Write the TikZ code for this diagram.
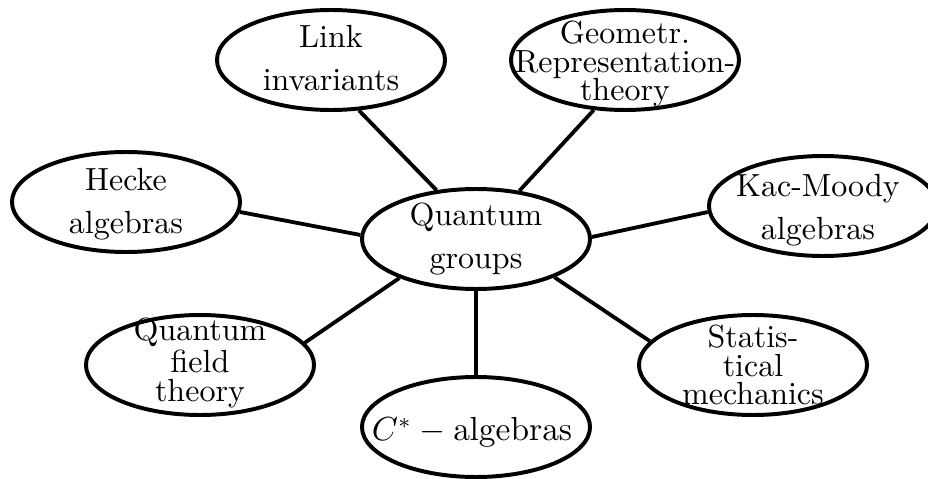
\documentclass[tikz,border=0pt]{standalone}
\usetikzlibrary{shapes.geometric}
\begin{document}
\begin{tikzpicture}[x=0.328pt,y=-0.328pt,
  bubble/.style={ellipse,draw,line width=1.3pt,minimum width=74.8pt,minimum height=32.8pt,inner sep=0pt},
  twoline/.style={align=center,font=\fontsize{10.5}{14.3}\selectfont,inner sep=0pt},
  threeline/.style={align=center,font=\fontsize{10.5}{9.4}\selectfont,inner sep=0pt},
  connector/.style={line width=1.25pt}]
\useasboundingbox (0,0) rectangle (928,478);

\node[bubble] (qg)    at (476,239) {};
\node[bubble] (link)  at (331,60)  {};
\node[bubble] (geo)   at (625,60)  {};
\node[bubble] (hecke) at (126,202) {};
\node[bubble] (kac)   at (823,206) {};
\node[bubble] (qft)   at (200,365) {};
\node[bubble] (cstar) at (476,427) {};
\node[bubble] (stat)  at (753,365) {};

\node[twoline]   (qgt)    at (476,239) {Quantum\\groups};
\node[twoline]   (linkt)  at (331,58)  {Link\\invariants};
\node[threeline] (geot)   at (625,64)  {Geometr.\\Representation-\\theory};
\node[twoline]   (heckt)  at (126,204) {Hecke\\algebras};
\node[twoline]   (kact)   at (818,210) {Kac-Moody\\algebras};
\node[threeline] (qftt)   at (200,363) {Quantum\\field\\theory};
\node[twoline]   (cstart) at (472,432) {$C^* - \mathrm{algebras}$};
\node[threeline] (statt)  at (753,365) {Statis-\\tical\\mechanics};

\draw[connector] (link.-61)   -- (qg.129);
\draw[connector] (geo.-122)   -- (qg.48);
\draw[connector] (hecke.-5.5) -- (qg.178.5);
\draw[connector] (kac.183.5)  -- (qg.1);
\draw[connector] (qft.12.4)   -- (qg.-153.7);
\draw[connector] (cstar.90)   -- (qg.-90);
\draw[connector] (stat.167.8) -- (qg.-26.9);
\end{tikzpicture}
\end{document}
